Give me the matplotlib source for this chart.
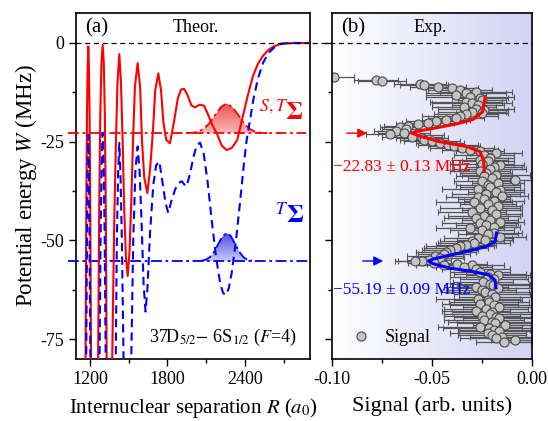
import numpy as np
import matplotlib
matplotlib.use("Agg")
import matplotlib.pyplot as plt
import matplotlib.transforms as mtransforms
from matplotlib.colors import LinearSegmentedColormap
from matplotlib.lines import Line2D
from matplotlib.ticker import MultipleLocator

plt.rcParams["font.family"] = ["Liberation Serif", "DejaVu Serif"]
plt.rcParams["mathtext.fontset"] = "stix"
plt.rcParams["axes.unicode_minus"] = False

# --- (a) theory: potential curves (R in a0, W in MHz) ---
red_curve = np.array([
    [1150, -200], [1165, -85], [1172, -40], [1177, -18], [1182, -6], [1187, -0.9],
    [1192, -6], [1197, -18], [1202, -40], [1209, -85], [1235, -200],
    [1262, -85], [1272, -40], [1280, -18], [1289, -5], [1298, -0.5], [1307, -5],
    [1315, -18], [1322, -40], [1330, -85], [1350, -200],
    [1370, -85], [1388, -45], [1401, -25], [1413, -10], [1427, -2.8], [1440, -10],
    [1453, -25], [1465, -42], [1478, -54], [1492, -59], [1506, -53], [1520, -40],
    [1533, -25], [1548, -11], [1569, -5.1], [1588, -11], [1603, -25], [1620, -34],
    [1644, -38], [1665, -32], [1688, -22], [1705, -12], [1729, -7.7], [1750, -12],
    [1768, -20], [1790, -24.5], [1819, -25.4], [1850, -20], [1880, -14], [1905, -11.8],
    [1928, -11.6], [1955, -13.2], [1985, -15.8], [2013, -16.3], [2050, -15.6],
    [2083, -15.9], [2110, -17.8], [2150, -21], [2181, -22.8], [2220, -26], [2258, -27.1],
    [2300, -26.5], [2340, -24.5], [2380, -19], [2420, -13.5], [2460, -8.5], [2500, -5.3],
    [2540, -3.2], [2580, -1.8], [2620, -0.9], [2670, -0.3], [2720, -0.05], [2900, 0],
])

blue_curve = np.array([
    [1150, -200], [1170, -85], [1177, -50], [1182, -32], [1187, -23.3], [1192, -32],
    [1197, -50], [1204, -85], [1240, -200],
    [1273, -85], [1282, -50], [1290, -31], [1298, -22.7], [1306, -31], [1314, -50],
    [1323, -85], [1360, -200],
    [1398, -85], [1408, -50], [1418, -33], [1427, -25.3], [1436, -33], [1447, -50],
    [1462, -85], [1495, -150],
    [1517, -85], [1535, -50], [1552, -32], [1569, -26.2], [1585, -33], [1600, -46],
    [1615, -61], [1630, -68], [1645, -62], [1665, -48], [1690, -36], [1712, -31],
    [1737, -30], [1760, -35], [1785, -40.5], [1806, -43], [1830, -40], [1860, -37],
    [1885, -35.5], [1910, -35], [1930, -35.8], [1948, -36.3], [1975, -33], [2000, -29],
    [2025, -26], [2052, -25.2], [2080, -28], [2110, -35], [2142, -44.8], [2175, -54],
    [2207, -60.7], [2230, -63.3], [2253, -63.8], [2275, -62], [2297, -58.2], [2330, -50],
    [2361, -40.5], [2390, -31], [2413, -24.5], [2439, -19.5], [2464, -14.4], [2500, -9],
    [2540, -5], [2580, -2.6], [2630, -1], [2680, -0.2], [2750, 0], [2900, 0],
])

# bound state energies (MHz)
red_level = -22.83
blue_level = -55.19

# vibrational wavefunctions (R, W)
red_wf_R = [1943, 1988, 2033, 2078, 2123, 2168, 2213, 2258,
            2303, 2348, 2393, 2438, 2483, 2528, 2573]
red_wf_W = [-22.81, -22.75, -22.50, -21.82, -20.39, -18.28, -16.21, -15.33,
            -16.21, -18.28, -20.39, -21.82, -22.50, -22.75, -22.81]
blue_wf_R = [2063, 2096, 2128, 2161, 2193, 2226, 2258, 2291, 2323, 2356, 2388, 2421, 2453]
blue_wf_W = [-55.11, -54.88, -54.23, -52.88, -50.88, -48.92, -48.09,
             -48.92, -50.88, -52.88, -54.23, -54.88, -55.11]

# --- (b) experiment ---
exp_W = [
    -8.7, -9.3, -9.6, -10.3, -10.7, -11.2, -11.5, -11.8, -12.3, -12.6,
    -13.2, -13.6, -14.0, -14.5, -15.0, -15.3, -15.8, -16.2, -16.6, -17.0,
    -17.4, -17.8, -18.1, -18.5, -19.0, -19.4, -19.8, -20.3, -20.6, -21.0,
    -21.3, -21.8, -22.2, -22.7, -23.0, -23.3, -23.7, -24.1, -24.5, -24.9,
    -25.4, -25.8, -26.2, -26.6, -27.1, -27.4, -27.9, -28.4, -29.0, -29.5,
    -30.0, -30.6, -30.9, -31.4, -31.8, -32.3, -32.8, -33.3, -33.8, -34.3,
    -34.8, -35.0, -35.5, -36.0, -36.4, -36.9, -37.3, -37.7, -38.2, -38.7,
    -39.0, -39.4, -39.9, -40.3, -40.8, -41.3, -41.8, -42.3, -42.7, -43.2,
    -43.7, -44.2, -44.7, -45.2, -45.6, -46.1, -46.6, -46.9, -47.4, -48.0,
    -48.4, -49.0, -49.4, -49.8, -50.2, -50.7, -51.1, -51.5, -52.0, -52.4,
    -52.9, -53.3, -53.9, -54.4, -54.9, -55.2, -55.3, -55.7, -55.9, -56.1,
    -56.3, -56.8, -57.3, -57.9, -58.4, -58.8, -59.2, -59.8, -60.4, -60.9,
    -61.3, -61.7, -62.1, -62.6, -63.0, -63.6, -64.2, -64.7, -65.1, -65.5,
    -66.0, -66.4, -66.8, -67.3, -67.8, -68.2, -68.5, -69.0, -69.3, -69.7,
    -70.2, -70.6, -71.0, -71.3, -71.8, -72.2, -72.6, -73.0, -73.5, -73.9,
    -74.4, -74.8, -75.2, -75.6,
]
exp_sig = [
    -0.099, -0.078, -0.075, -0.056, -0.054, -0.047, -0.040, -0.036, -0.028, -0.033,
    -0.038, -0.031, -0.026, -0.025, -0.033, -0.030, -0.027, -0.034, -0.028, -0.024,
    -0.030, -0.025, -0.033, -0.036, -0.038, -0.043, -0.048, -0.052, -0.057, -0.062,
    -0.066, -0.063, -0.068, -0.064, -0.071, -0.058, -0.060, -0.055, -0.054, -0.050,
    -0.046, -0.042, -0.039, -0.035, -0.031, -0.026, -0.018, -0.024, -0.021, -0.026,
    -0.022, -0.025, -0.016, -0.019, -0.021, -0.026, -0.023, -0.018, -0.024, -0.020,
    -0.0085, -0.025, -0.017, -0.022, -0.021, -0.027, -0.016, -0.018, -0.023, -0.015,
    -0.027, -0.024, -0.019, -0.029, -0.022, -0.017, -0.026, -0.020, -0.030, -0.018,
    -0.024, -0.028, -0.021, -0.016, -0.026, -0.023, -0.019, -0.031, -0.025, -0.019,
    -0.022, -0.016, -0.027, -0.0235, -0.030, -0.029, -0.033, -0.036, -0.038, -0.041,
    -0.043, -0.044, -0.0485, -0.046, -0.0517, -0.055, -0.0585, -0.049, -0.0377, -0.044,
    -0.030, -0.034, -0.028, -0.026, -0.021, -0.017, -0.022, -0.019, -0.0243, -0.021,
    -0.0193, -0.028, -0.017, -0.025, -0.0233, -0.020, -0.0183, -0.027, -0.022, -0.0217,
    -0.026, -0.019, -0.0167, -0.023, -0.028, -0.020, -0.0208, -0.025, -0.018, -0.0167,
    -0.024, -0.020, -0.0183, -0.0135, -0.026, -0.0217, -0.019, -0.0167, -0.022, -0.020,
    -0.015, -0.018, -0.0085, -0.014,
]
exp_err = [
    0.010, 0.011, 0.012, 0.013, 0.012, 0.014, 0.013, 0.016, 0.018, 0.020,
    0.015, 0.022, 0.014, 0.012, 0.018, 0.020, 0.013, 0.016, 0.019, 0.012,
    0.017, 0.013, 0.016, 0.019, 0.014, 0.012, 0.015, 0.013, 0.011, 0.012,
    0.010, 0.012, 0.011, 0.013, 0.012, 0.014, 0.015, 0.013, 0.012, 0.014,
    0.012, 0.015, 0.013, 0.016, 0.014, 0.012, 0.013, 0.015, 0.012, 0.014,
    0.013, 0.016, 0.012, 0.014, 0.018, 0.015, 0.013, 0.017, 0.014, 0.012,
    0.009, 0.014, 0.013, 0.016, 0.015, 0.018, 0.012, 0.014, 0.017, 0.013,
    0.016, 0.013, 0.015, 0.019, 0.014, 0.012, 0.020, 0.015, 0.017, 0.013,
    0.018, 0.016, 0.014, 0.012, 0.019, 0.015, 0.013, 0.017, 0.016, 0.014,
    0.015, 0.013, 0.017, 0.014, 0.016, 0.018, 0.015, 0.017, 0.016, 0.014,
    0.015, 0.013, 0.014, 0.012, 0.011, 0.012, 0.010, 0.013, 0.015, 0.014,
    0.016, 0.014, 0.017, 0.015, 0.018, 0.016, 0.019, 0.017, 0.015, 0.020,
    0.018, 0.016, 0.020, 0.017, 0.022, 0.019, 0.018, 0.021, 0.017, 0.020,
    0.019, 0.022, 0.018, 0.021, 0.017, 0.020, 0.023, 0.019, 0.021, 0.018,
    0.020, 0.022, 0.019, 0.016, 0.021, 0.023, 0.018, 0.020, 0.019, 0.017,
    0.016, 0.018, 0.012, 0.014,
]

# fitted line shapes (signal, W)
red_fit = np.array([
    [-0.0235, -14.0], [-0.0247, -17.4], [-0.0293, -19.3], [-0.0377, -20.5],
    [-0.0493, -21.6], [-0.0577, -22.4], [-0.0600, -22.83], [-0.0560, -23.6],
    [-0.0460, -25.0], [-0.0327, -26.2], [-0.0260, -27.5], [-0.0243, -29.6],
    [-0.0238, -32.5],
])
blue_fit = np.array([
    [-0.0177, -48.1], [-0.0185, -50.3], [-0.0227, -51.5], [-0.0327, -52.8],
    [-0.0427, -53.9], [-0.0493, -54.7], [-0.0518, -55.2], [-0.0493, -55.9],
    [-0.0410, -57.0], [-0.0293, -57.9], [-0.0218, -58.7], [-0.0185, -60.0],
    [-0.0180, -62.0],
])

RED = "#ff0000"
BLUE = "#0000ff"
YLIM = (-80, 7.6)

fig = plt.figure(figsize=(5.48, 4.21), dpi=100)
ax1 = fig.add_axes([0.1387, 0.1473, 0.4270, 0.8219])
ax2 = fig.add_axes([0.6058, 0.1473, 0.3650, 0.8219])

# ---------- panel (a) ----------
ax1.plot(red_curve[:, 0], red_curve[:, 1], color=RED, lw=1.5, zorder=4)
ax1.plot(blue_curve[:, 0], blue_curve[:, 1], color=BLUE, lw=1.5,
         linestyle=(0, (4, 2.5)), zorder=4)

dashdot = (0, (6, 2, 1.5, 2))
ax1.plot([1030, 2872], [red_level, red_level], color=RED, lw=1.3,
         linestyle=dashdot, clip_on=False, zorder=3)
ax1.plot([1030, 2903], [blue_level, blue_level], color=BLUE, lw=1.3,
         linestyle=dashdot, clip_on=False, zorder=3)


def gradient_fill(ax, xs, ys, base, top_color, bottom_color, line_color):
    poly = ax.fill_between(xs, base, ys, facecolor="none", edgecolor="none")
    cmap = LinearSegmentedColormap.from_list("g", [bottom_color, top_color])
    grad = np.linspace(0, 1, 100).reshape(-1, 1)
    im = ax.imshow(grad, extent=[min(xs), max(xs), base, max(ys)], origin="lower",
                   aspect="auto", cmap=cmap, zorder=2)
    im.set_clip_path(poly.get_paths()[0], transform=ax.transData)
    ax.plot(xs, ys, color=line_color, lw=1.3, linestyle=dashdot, zorder=3)


gradient_fill(ax1, red_wf_R, red_wf_W, red_level, "#ec5050", "#f9b8b8", RED)
gradient_fill(ax1, blue_wf_R, blue_wf_W, blue_level, "#4a4ae6", "#cacaf6", BLUE)

ax1.set_xlim(1092, 2903)
ax1.set_ylim(*YLIM)
ax1.set_xticks([1200, 1800, 2400])
ax1.xaxis.set_minor_locator(MultipleLocator(300))
ax1.set_yticks([0, -25, -50, -75])
ax1.yaxis.set_minor_locator(MultipleLocator(12.5))

ax1.text(0.04, 0.957, "(a)", transform=ax1.transAxes, fontsize=15, va="center")
ax1.text(0.513, 0.957, "Theor.", transform=ax1.transAxes, fontsize=13,
         ha="center", va="center")
ax1.text(2858, -19.5, r"$^{S,T}\mathbf{\Sigma}$", color=RED, fontsize=18, ha="right")
ax1.text(2858, -45.5, r"$^{T}\mathbf{\Sigma}$", color=BLUE, fontsize=18, ha="right")
ax1.text(2230, -74.6, r"37D$_{5/2}$$-$ 6S$_{1/2}$ ($F$=4)", fontsize=13,
         ha="center", va="center")

ax1.set_xlabel(r"Internuclear separation $R$ ($a_0$)", fontsize=15, labelpad=6)
ax1.set_ylabel(r"Potential energy $W$ (MHz)", fontsize=16.5, labelpad=1)

# ---------- panel (b) ----------
bg = LinearSegmentedColormap.from_list("bg", ["#ffffff", "#d2d2f4"])
ax2.imshow(np.linspace(0, 1, 200).reshape(1, -1), extent=[-0.1, 0.0, YLIM[0], YLIM[1]],
           aspect="auto", cmap=bg, zorder=0)

ax2.errorbar(exp_sig, exp_W, xerr=exp_err, fmt="o", ms=6.5, mfc="#c4c4c4",
             mec="#4a4a4a", mew=0.8, ecolor="#555555", elinewidth=0.9,
             capsize=2.5, capthick=0.9, zorder=2)
ax2.plot(red_fit[:, 0], red_fit[:, 1], color=RED, lw=2.2, zorder=4)
ax2.plot(blue_fit[:, 0], blue_fit[:, 1], color=BLUE, lw=2.2, zorder=4)

ax2.annotate("", xy=(-0.081, red_level), xytext=(-0.094, red_level),
             arrowprops=dict(arrowstyle="-|>", color=RED, lw=1.0,
                             mutation_scale=14))
ax2.annotate("", xy=(-0.073, blue_level), xytext=(-0.086, blue_level),
             arrowprops=dict(arrowstyle="-|>", color=BLUE, lw=1.0,
                             mutation_scale=14))
ax2.text(-0.0995, -31.4, "\u221222.83 \u00b1 0.13 MHz", color=RED, fontsize=12.5,
         va="center")
ax2.text(-0.0995, -62.5, "\u221255.19 \u00b1 0.09 MHz", color=BLUE, fontsize=12.5,
         va="center")

ax2.set_xlim(-0.1, 0.0)
ax2.set_ylim(*YLIM)
ax2.set_xticks([-0.10, -0.05, 0.00])
ax2.set_xticklabels(["-0.10", "-0.05", "0.00"])
ax2.xaxis.set_minor_locator(MultipleLocator(0.025))
ax2.set_yticks([0, -25, -50, -75])
ax2.yaxis.set_minor_locator(MultipleLocator(12.5))
ax2.set_yticklabels([])

ax2.text(0.045, 0.957, "(b)", transform=ax2.transAxes, fontsize=15, va="center")
ax2.text(0.49, 0.957, "Exp.", transform=ax2.transAxes, fontsize=13,
         ha="center", va="center")
ax2.set_xlabel("Signal (arb. units)", fontsize=16, labelpad=6)

proxy = Line2D([], [], marker="o", ls="none", ms=6.5, mfc="#c4c4c4", mec="#4a4a4a",
               mew=0.8)
ax2.legend([proxy], ["Signal"], loc="lower left", bbox_to_anchor=(0.02, -0.01),
           frameon=False, fontsize=13, handlelength=1.0, handletextpad=0.8)

for ax in (ax1, ax2):
    ax.tick_params(which="major", direction="out", length=5, width=1,
                   labelsize=13)
    ax.tick_params(which="minor", direction="out", length=3, width=1)
    for s in ax.spines.values():
        s.set_linewidth(1.2)

# zero-energy reference line across both panels
tr = mtransforms.blended_transform_factory(fig.transFigure, ax1.transData)
fig.add_artist(Line2D([0.1387, 0.9708], [0, 0], transform=tr, color="black",
                      lw=0.9, linestyle=(0, (4, 3)), zorder=5))

fig.savefig("out.png", dpi=100)
